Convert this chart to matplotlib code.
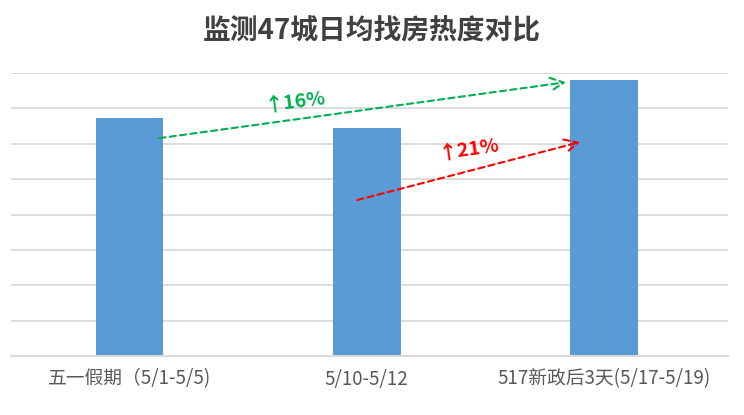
import matplotlib.pyplot as plt

plt.rcParams["font.family"] = ["Noto Sans CJK SC", "DejaVu Sans"]

BAR_BLUE = "#5B9BD5"
GRID = "#D9D9D9"
GREEN = "#00B050"
RED = "#FF0000"

categories = ["五一假期（5/1-5/5)", "5/10-5/12", "517新政后3天(5/17-5/19)"]
heat = [6.72, 6.44, 7.80]

# arrows: (start, end) in data units
green_arrow = ((0.125, 6.16), (1.84, 7.74))
red_arrow = ((0.96, 4.41), (1.90, 6.05))

fig = plt.figure(figsize=(7.44, 4.15), dpi=100)
ax = fig.add_axes([0.015, 0.142, 0.964, 0.682])

x = range(len(categories))
ax.bar(x, heat, width=0.285, color=BAR_BLUE, edgecolor="none", zorder=2)

ax.set_xlim(-0.5, 2.525)
ax.set_ylim(0, 8)
ax.set_yticks(range(1, 9))
ax.yaxis.grid(True, color=GRID, linewidth=1.3, zorder=0)
ax.tick_params(axis="y", length=0, labelleft=False)
ax.set_xticks(list(x))
ax.set_xticklabels(categories, fontsize=13.5, color="#595959")
ax.tick_params(axis="x", length=0, pad=9)
for side in ["top", "right", "left"]:
    ax.spines[side].set_visible(False)
ax.spines["bottom"].set_color(GRID)
ax.spines["bottom"].set_linewidth(1.5)

ax.annotate("", xy=green_arrow[1], xytext=green_arrow[0],
            arrowprops=dict(arrowstyle="->", color=GREEN, lw=1.5,
                            linestyle=(0, (3, 2)), mutation_scale=24,
                            shrinkA=0, shrinkB=0), zorder=3)
ax.annotate("", xy=red_arrow[1], xytext=red_arrow[0],
            arrowprops=dict(arrowstyle="->", color=RED, lw=1.5,
                            linestyle=(0, (3, 2)), mutation_scale=24,
                            shrinkA=0, shrinkB=0), zorder=3)

ax.text(0.70, 7.18, "↑16%", color=GREEN, fontsize=14, fontweight="bold",
        ha="center", va="center", rotation=7)
ax.text(1.43, 5.85, "↑21%", color=RED, fontsize=14, fontweight="bold",
        ha="center", va="center", rotation=8)

fig.text(0.5, 0.925, "监测47城日均找房热度对比", ha="center", va="center",
         fontsize=20, fontweight="bold", color="#404040")

fig.savefig("out.png", dpi=100, facecolor="white")
